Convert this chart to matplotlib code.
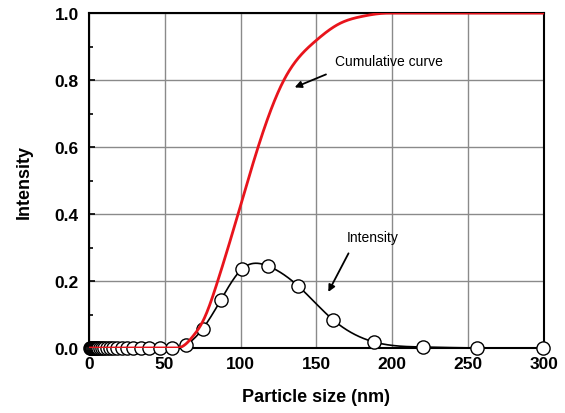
import numpy as np
import matplotlib.pyplot as plt

plt.rcParams['font.family'] = ['Liberation Sans', 'DejaVu Sans']

# Measured intensity distribution (particle size in nm)
size_nm = [1.0, 1.2, 1.4, 1.6, 1.9, 2.2, 2.5, 3.0, 3.4, 4.0, 4.7, 5.5, 6.4, 7.4,
           8.7, 10.0, 11.8, 13.8, 16.0, 18.8, 22.0, 25.5, 29.5, 34.5, 40.0, 47.0,
           55.0, 64.0, 75.0, 87.0, 101.0, 118.0, 138.0, 161.0, 188.0, 220.0,
           256.0, 299.0]
intensity = [0.0] * 27 + [0.01, 0.057, 0.143, 0.236, 0.245, 0.185, 0.084,
                          0.018, 0.003, 0.0, 0.0]

# Cumulative curve (0 below, 1 above this range)
cum_x = [58, 64, 69, 75, 85, 98.4, 111.6, 128.6, 149, 165, 180, 198]
cum_y = [0, 0.012, 0.037, 0.078, 0.2, 0.4, 0.6, 0.8, 0.915, 0.968, 0.99, 1.0]


def spline(x, y, xnew):
    # clamped cubic spline (zero slope at both ends)
    x = np.asarray(x, float)
    y = np.asarray(y, float)
    n = len(x)
    h = np.diff(x)
    d = np.diff(y) / h
    A = np.zeros((n, n))
    b = np.zeros(n)
    A[0, 0], A[0, 1], b[0] = 2 * h[0], h[0], 6 * d[0]
    A[-1, -2], A[-1, -1], b[-1] = h[-1], 2 * h[-1], -6 * d[-1]
    for i in range(1, n - 1):
        A[i, i - 1] = h[i - 1]
        A[i, i] = 2 * (h[i - 1] + h[i])
        A[i, i + 1] = h[i]
        b[i] = 6 * (d[i] - d[i - 1])
    M = np.linalg.solve(A, b)
    xnew = np.clip(xnew, x[0], x[-1])
    k = np.clip(np.searchsorted(x, xnew) - 1, 0, n - 2)
    hk = h[k]
    a = x[k + 1] - xnew
    c = xnew - x[k]
    return (M[k] * a ** 3 / (6 * hk) + M[k + 1] * c ** 3 / (6 * hk)
            + (y[k] / hk - M[k] * hk / 6) * a
            + (y[k + 1] / hk - M[k + 1] * hk / 6) * c)


fig = plt.figure(figsize=(5.65, 4.14), dpi=100)
ax = fig.add_axes([0.157, 0.157, 0.806, 0.809])

ax.grid(True, color='#8a8a8a', linewidth=1.0)
ax.set_axisbelow(True)

sx = np.linspace(size_nm[0], size_nm[-1], 1200)
sy = np.clip(spline(size_nm, intensity, sx), 0, None)
ax.plot(sx, sy, color='black', linewidth=1.2, zorder=3)
ax.plot(size_nm, intensity, linestyle='none', marker='o', markersize=9.5,
        markerfacecolor='white', markeredgecolor='black', markeredgewidth=1.0,
        zorder=4, clip_on=False)

cx = np.linspace(0, 300, 1200)
cy = np.clip(spline(cum_x, cum_y, cx), 0, 1)
ax.plot(cx, cy, color='#e8141c', linewidth=2.0, zorder=5)

ax.set_xlim(0, 300)
ax.set_ylim(0, 1.0)
ax.set_xticks([0, 50, 100, 150, 200, 250, 300])
ax.set_yticks([0.0, 0.2, 0.4, 0.6, 0.8, 1.0])
ax.set_yticks(np.arange(0.1, 1.0, 0.2), minor=True)
ax.tick_params(axis='both', which='both', direction='in', labelsize=12.5,
               width=1.2)
ax.tick_params(axis='x', length=0, pad=6)
ax.tick_params(axis='y', which='major', length=4, pad=7)
ax.tick_params(axis='y', which='minor', length=3)
for lab in ax.get_xticklabels() + ax.get_yticklabels():
    lab.set_fontweight('bold')
for sp in ax.spines.values():
    sp.set_linewidth(1.5)

ax.set_xlabel('Particle size (nm)', fontsize=13, fontweight='bold', labelpad=12)
ax.set_ylabel('Intensity', fontsize=13, fontweight='bold', labelpad=16)

# Annotations
ax.annotate('', xy=(134, 0.775), xytext=(158, 0.82),
            arrowprops=dict(arrowstyle='-|>', color='black', lw=1.3,
                            mutation_scale=10))
ax.text(162, 0.856, 'Cumulative curve', fontsize=10, va='center')
ax.annotate('', xy=(157, 0.16), xytext=(172, 0.29),
            arrowprops=dict(arrowstyle='-|>', color='black', lw=1.3,
                            mutation_scale=10))
ax.text(170, 0.332, 'Intensity', fontsize=10, va='center')

fig.savefig('out.png', dpi=100)
